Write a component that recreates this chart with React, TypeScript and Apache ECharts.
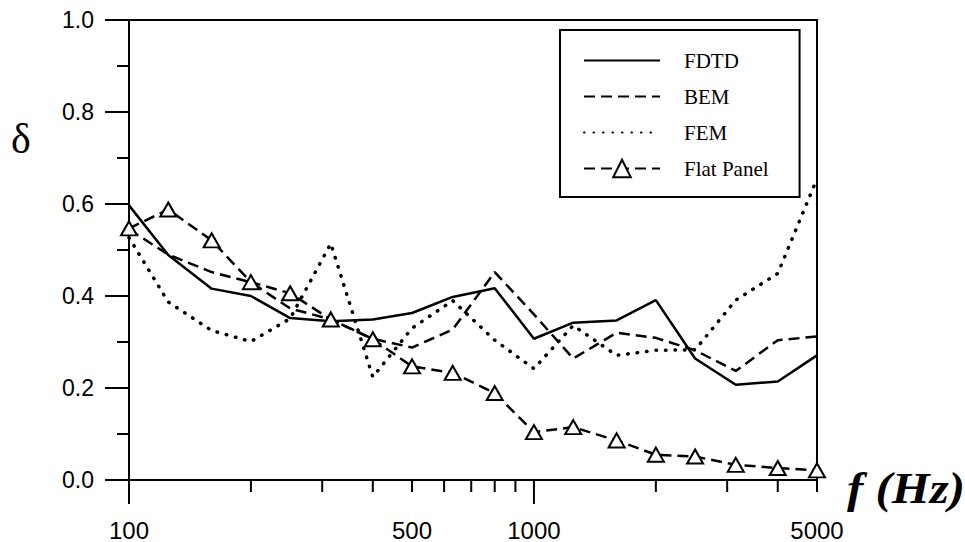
import React, { useEffect, useRef } from "react";
import * as echarts from "echarts";

const freqs = [100, 125, 160, 200, 250, 315, 400, 500, 630, 800, 1000, 1250, 1600, 2000, 2500, 3150, 4000, 5000];
const fdtd = [0.597, 0.489, 0.416, 0.4, 0.352, 0.345, 0.349, 0.363, 0.398, 0.417, 0.307, 0.342, 0.347, 0.391, 0.264, 0.207, 0.214, 0.271];
const bem = [0.545, 0.49, 0.452, 0.43, 0.373, 0.349, 0.307, 0.288, 0.327, 0.452, 0.36, 0.264, 0.32, 0.309, 0.282, 0.237, 0.304, 0.312];
const fem = [0.527, 0.387, 0.325, 0.301, 0.351, 0.514, 0.224, 0.33, 0.39, 0.304, 0.242, 0.336, 0.271, 0.282, 0.283, 0.391, 0.449, 0.655];
const flat = [0.547, 0.588, 0.521, 0.43, 0.406, 0.349, 0.306, 0.247, 0.233, 0.189, 0.104, 0.115, 0.086, 0.055, 0.051, 0.033, 0.026, 0.021];

const seriesNames = ["FDTD", "BEM", "FEM", "Flat Panel"];
const xTickValues = [100, 200, 300, 400, 500, 600, 700, 800, 900, 1000, 2000, 3000, 4000, 5000];
const xMajorTicks = [100, 1000];
const xTickLabels = [100, 500, 1000, 5000];

const sans = "Liberation Sans";
const serif = "Liberation Serif";

const pairs = (ys: number[]) => freqs.map((f, i) => [f, ys[i]]);

export default function App() {
  const ref = useRef<HTMLDivElement>(null);
  useEffect(() => {
    if (!ref.current) return;
    const chart = echarts.init(ref.current, null, { renderer: "svg" });
    const dashed = { color: "#000", width: 2.5, type: [11, 6] as number[] };
    chart.setOption({
      animation: false,
      backgroundColor: "#fff",
      grid: {
        left: 129,
        right: 148,
        top: 20,
        bottom: 62,
        show: true,
        borderColor: "#000",
        borderWidth: 2,
        backgroundColor: "transparent",
      },
      xAxis: {
        type: "log",
        logBase: 10,
        min: 100,
        max: 5000,
        axisLine: { show: true, lineStyle: { color: "#000", width: 2 } },
        axisTick: { show: false },
        axisLabel: { show: false },
        splitLine: { show: false },
        minorTick: { show: false },
      },
      yAxis: {
        type: "value",
        min: 0,
        max: 1,
        interval: 0.2,
        axisLine: { show: true, lineStyle: { color: "#000", width: 2 } },
        axisTick: { show: true, length: 24, lineStyle: { color: "#000", width: 2 } },
        minorTick: { show: true, splitNumber: 2, length: 12, lineStyle: { color: "#000", width: 2 } },
        splitLine: { show: false },
        minorSplitLine: { show: false },
        axisLabel: {
          margin: 35,
          fontFamily: sans,
          fontSize: 23,
          color: "#000",
          formatter: (v: number) => v.toFixed(1),
        },
      },
      legend: {
        orient: "vertical",
        left: 560,
        top: 30,
        padding: [20, 31, 18, 23],
        itemWidth: 76,
        itemHeight: 22,
        itemGap: 15,
        borderColor: "#000",
        borderWidth: 2,
        backgroundColor: "#fff",
        textStyle: { fontFamily: serif, fontSize: 21, color: "#000", padding: [0, 0, 0, 19] },
        data: [
          { name: seriesNames[0], itemStyle: { opacity: 0 } },
          { name: seriesNames[1], itemStyle: { opacity: 0 } },
          { name: seriesNames[2], itemStyle: { opacity: 0 } },
          { name: seriesNames[3] },
        ],
      },
      graphic: [
        {
          type: "text",
          left: 11,
          top: 118,
          style: { text: "δ", font: `42px ${serif}`, fill: "#000" },
        },
        {
          type: "text",
          x: 847,
          y: 488,
          scaleX: 1.11,
          style: {
            text: "f (Hz)",
            font: `italic bold 44px ${serif}`,
            fill: "#000",
            verticalAlign: "middle",
          },
        },
      ],
      series: [
        {
          name: seriesNames[0],
          type: "line",
          data: pairs(fdtd),
          symbol: "none",
          lineStyle: { color: "#000", width: 2.5, type: "solid" },
          itemStyle: { color: "#000" },
          z: 3,
        },
        {
          name: seriesNames[1],
          type: "line",
          data: pairs(bem),
          symbol: "none",
          lineStyle: dashed,
          itemStyle: { color: "#000" },
          z: 3,
        },
        {
          name: seriesNames[2],
          type: "line",
          data: pairs(fem),
          symbol: "none",
          lineStyle: { color: "#000", width: 3.5, type: [0.5, 9], cap: "round" },
          itemStyle: { color: "#000" },
          z: 3,
        },
        {
          name: seriesNames[3],
          type: "line",
          data: pairs(flat),
          symbol: "triangle",
          symbolSize: [16, 14],
          lineStyle: dashed,
          itemStyle: { color: "#fff", borderColor: "#000", borderWidth: 2 },
          z: 4,
        },
        {
          type: "custom",
          silent: true,
          clip: false,
          z: 5,
          data: xTickValues.map((v) => [v, 0]),
          encode: { x: 0, y: 1 },
          renderItem: (_params: any, api: any) => {
            const v = api.value(0) as number;
            const p = api.coord([v, 0]);
            const len = xMajorTicks.includes(v) ? 24 : 12;
            const children: any[] = [
              {
                type: "line",
                shape: { x1: p[0], y1: p[1], x2: p[0], y2: p[1] + len },
                style: { stroke: "#000", lineWidth: 2 },
              },
            ];
            if (xTickLabels.includes(v)) {
              children.push({
                type: "text",
                style: {
                  text: String(v),
                  x: p[0],
                  y: p[1] + 50,
                  align: "center",
                  verticalAlign: "middle",
                  fontSize: 24,
                  fontFamily: sans,
                  fill: "#000",
                },
              });
            }
            return { type: "group", children };
          },
        },
      ],
    });
    return () => chart.dispose();
  }, []);
  return (
    <div
      ref={ref}
      style={{ position: "absolute", left: 0, top: 0, width: 965, height: 542, background: "#fff" }}
    />
  );
}
